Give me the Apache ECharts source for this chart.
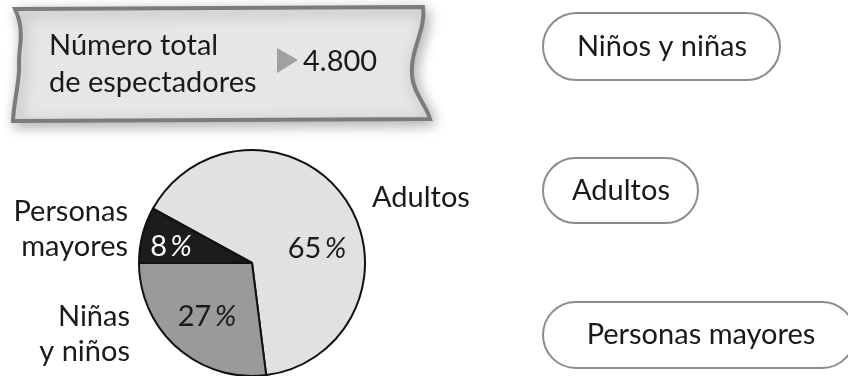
<!DOCTYPE html>
<html>
<head>
<meta charset="utf-8">
<script src="https://cdn.jsdelivr.net/npm/echarts@6/dist/echarts.min.js"></script>
<style>
  html, body { margin: 0; padding: 0; background: #fff; }
  #chart { width: 848px; height: 376px; }
</style>
</head>
<body>
<div id="chart"></div>
<script>
// datos del gráfico
const categories = ["Adultos", "Niñas y niños", "Personas mayores"];
const values = [65, 27, 8];
const sliceColors = ["#e1e1e2", "#9a9a9c", "#1c1c1c"];
const outerLabels = ["Adultos", "Niñas\ny niños", "Personas\nmayores"];
const totalTitle = "Número total\nde espectadores";
const totalValue = "4.800";
const boxLabels = ["Niños y niñas", "Adultos", "Personas mayores"];

const FONT = "Lato";
const FS = 29;

// posición de los textos de porcentaje (x, y)
const pctPos = [[317, 249], [207, 317], [171, 247]];

const chart = echarts.init(document.getElementById("chart"));

// contorno ondulado del cartel: puntos a partir de curvas bezier
function bez(p0, p1, p2, p3, n) {
  const pts = [];
  for (let i = 0; i <= n; i++) {
    const t = i / n, u = 1 - t;
    pts.push([
      u * u * u * p0[0] + 3 * u * u * t * p1[0] + 3 * u * t * t * p2[0] + t * t * t * p3[0],
      u * u * u * p0[1] + 3 * u * u * t * p1[1] + 3 * u * t * t * p2[1] + t * t * t * p3[1],
    ]);
  }
  return pts;
}
const bannerPts = [].concat(
  [[15, 9]],
  bez([423, 7], [426, 30], [410, 50], [412, 75], 16),
  bez([412, 75], [413, 92], [426, 105], [430, 119], 12),
  bez([13, 121], [14, 100], [20, 80], [19, 62], 12),
  bez([19, 62], [19, 45], [25, 30], [15, 9], 12)
);

// cajas redondeadas de la derecha
const boxes = [
  { x: 543, y: 13, w: 237, h: 67, tx: 662 },
  { x: 543, y: 158, w: 155, h: 65, tx: 621 },
  { x: 543, y: 302, w: 312, h: 66, tx: 701 },
];
const boxGraphics = [];
boxLabels.forEach((txt, i) => {
  const b = boxes[i];
  boxGraphics.push({
    type: "rect",
    shape: { x: b.x, y: b.y, width: b.w, height: b.h, r: b.h / 2 },
    style: { fill: "#fff", stroke: "#8c8c8c", lineWidth: 2 },
  });
  boxGraphics.push({
    type: "text",
    x: b.tx,
    y: b.y + b.h / 2,
    style: {
      text: txt, fill: "#1a1a1a", font: FS + "px " + FONT,
      textAlign: "center", textVerticalAlign: "middle",
    },
  });
});

const options = {
  animation: false,
  graphic: [
    // cartel gris
    {
      type: "polygon",
      shape: { points: bannerPts },
      style: {
        fill: "#e6e6e7", stroke: "#7c7c7c", lineWidth: 4,
        shadowBlur: 14, shadowColor: "rgba(0,0,0,0.3)", shadowOffsetX: 3, shadowOffsetY: 4,
      },
      z: 1,
    },
    {
      type: "text", x: 49, y: 64, z: 2,
      style: {
        text: totalTitle, fill: "#1a1a1a", font: FS + "px " + FONT,
        lineHeight: 37, textAlign: "left", textVerticalAlign: "middle",
      },
    },
    {
      type: "polygon", z: 2,
      shape: { points: [[277, 48], [298, 60], [277, 73]] },
      style: { fill: "#a0a0a0" },
    },
    {
      type: "text", x: 303, y: 62, z: 2,
      style: {
        text: totalValue, fill: "#1a1a1a", font: FS + "px " + FONT,
        textAlign: "left", textVerticalAlign: "middle",
      },
    },
    // etiquetas exteriores del pastel
    {
      type: "text", x: 372, y: 198,
      style: {
        text: outerLabels[0], fill: "#1a1a1a", font: FS + "px " + FONT,
        textAlign: "left", textVerticalAlign: "middle",
      },
    },
    {
      type: "text", x: 130, y: 334,
      style: {
        text: outerLabels[1], fill: "#1a1a1a", font: FS + "px " + FONT,
        lineHeight: 35, textAlign: "right", textVerticalAlign: "middle",
      },
    },
    {
      type: "text", x: 128, y: 229,
      style: {
        text: outerLabels[2], fill: "#1a1a1a", font: FS + "px " + FONT,
        lineHeight: 35, textAlign: "right", textVerticalAlign: "middle",
      },
    },
    ...boxGraphics,
  ],
  series: [
    {
      type: "pie",
      center: [252, 263],
      radius: 113,
      startAngle: 151.2,
      clockwise: true,
      silent: true,
      itemStyle: { borderColor: "#111", borderWidth: 2 },
      label: {
        show: true,
        position: "inside",
        formatter: (p) => "{n|" + p.value + "}{p|\u2009%}",
        rich: {
          n: { fontFamily: FONT, fontSize: FS },
          p: { fontFamily: FONT, fontSize: FS, fontStyle: "italic" },
        },
      },
      labelLayout: (params) => ({
        x: pctPos[params.dataIndex][0],
        y: pctPos[params.dataIndex][1],
        align: "center",
        verticalAlign: "middle",
      }),
      data: categories.map((name, i) => ({
        name: name,
        value: values[i],
        itemStyle: { color: sliceColors[i] },
        label: { color: i === 2 ? "#fff" : "#1a1a1a" },
      })),
    },
  ],
};

chart.setOption(options);
</script>
</body>
</html>
